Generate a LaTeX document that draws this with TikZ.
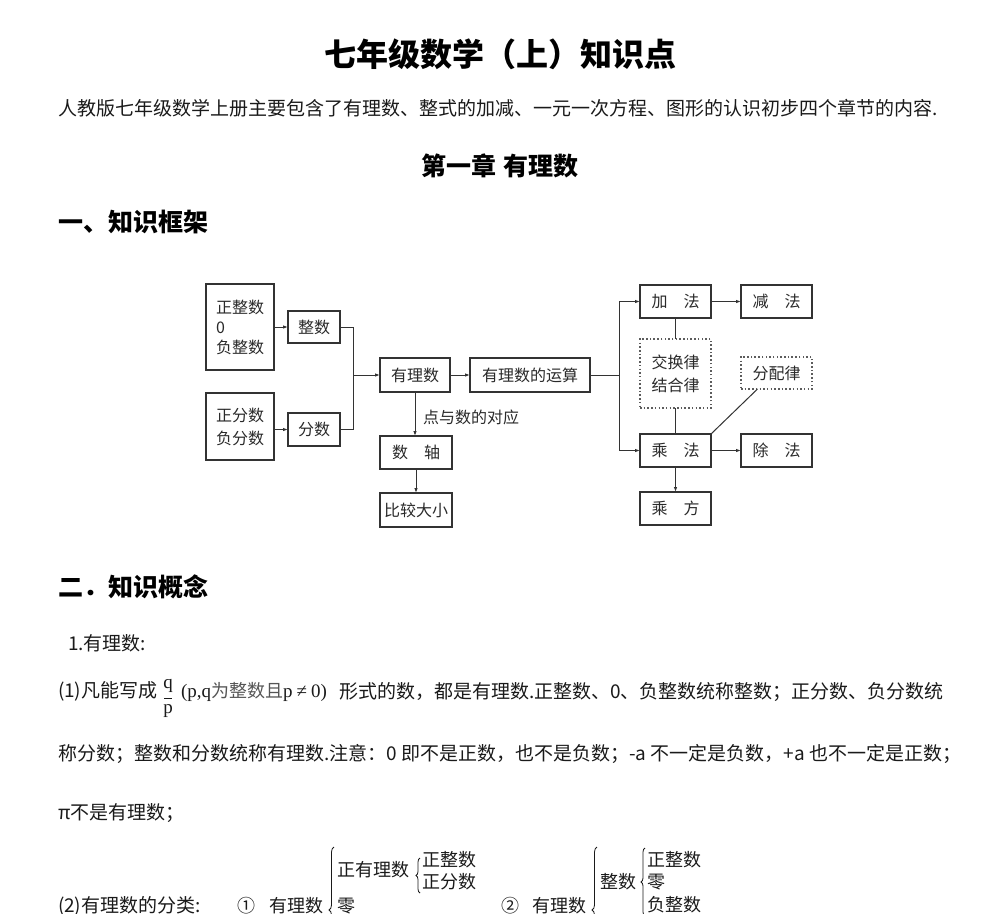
\documentclass[tikz,border=0pt]{standalone}
\usepackage{fontspec}
\setmainfont{Noto Sans CJK SC}
\newfontfamily\lserif{Liberation Serif}
\usetikzlibrary{arrows.meta,decorations.pathreplacing,calc}
\definecolor{txt}{HTML}{1A1A1A}
\definecolor{dline}{HTML}{333333}
\definecolor{dtext}{HTML}{2A2A2A}
\definecolor{fgray}{HTML}{555555}
\begin{document}
\begin{tikzpicture}[x=1pt,y=-1pt,
  every node/.style={inner sep=0pt, outer sep=0pt, text=txt},
  title/.style={font=\fontsize{32}{36}\selectfont\bfseries, text=black},
  head/.style={font=\fontsize{25}{30}\selectfont\bfseries, text=black},
  body/.style={font=\fontsize{19}{23}\selectfont, anchor=west},
  cls/.style={font=\fontsize{18}{22}\selectfont, anchor=west},
  dbox/.style={draw=dline, line width=1.3pt, font=\fontsize{16}{19}\selectfont, text=dtext, align=center},
  dotbox/.style={draw=dline!80, line width=1.5pt, dash pattern=on 1.5pt off 2.2pt, font=\fontsize{16}{19}\selectfont, text=dtext, align=center},
  cline/.style={draw=dline, line width=1pt},
  carr/.style={cline, -{Latex[length=5pt,width=3.5pt]}},
  brc/.style={draw=txt, line width=0.8pt, decorate, decoration={brace, amplitude=#1}},
  brc/.default=5pt
]
\useasboundingbox[fill=white] (0,0) rectangle (998,913);

% ---- headings ----
\node[title] (t) at (500,54) {七年级数学（上）知识点};
\node[body] (intro) at (58,108) {人教版七年级数学上册主要包含了有理数、整式的加减、一元一次方程、图形的认识初步四个章节的内容.};
\node[head] (ch1) at (500,166) {第一章\hspace{0.3em}有理数};
\node[head, anchor=west] (s1) at (58,222) {一、知识框架};

% ---- diagram ----
\node[dbox, minimum width=68pt, minimum height=86pt, align=left] (A) at (240,327) {正整数\\[1pt]0\\[1pt]负整数};
\node[dbox, minimum width=52pt, minimum height=32pt] (zs) at (314,327) {整数};
\node[dbox, minimum width=68pt, minimum height=67pt, align=left] (B) at (240,426.5) {正分数\\[4pt]负分数};
\node[dbox, minimum width=52pt, minimum height=33pt] (fs) at (314,429.5) {分数};
\node[dbox, minimum width=70pt, minimum height=34pt] (yl) at (415,375) {有理数};
\node[dbox, minimum width=120pt, minimum height=34pt] (ys) at (530,375) {有理数的运算};
\node[dbox, minimum width=72pt, minimum height=33pt] (sz) at (416,452.5) {数\quad 轴};
\node[dbox, minimum width=72pt, minimum height=34pt] (bj) at (416,510) {比较大小};
\node[font=\fontsize{16}{19}\selectfont, text=dtext, anchor=west] (dy) at (423,417) {点与数的对应};

\node[dbox, minimum width=71pt, minimum height=33pt] (jia) at (675.5,301.5) {加\quad 法};
\node[dbox, minimum width=71pt, minimum height=33pt] (jian) at (776.5,301.5) {减\quad 法};
\node[dotbox, minimum width=71pt, minimum height=69pt] (jh) at (675.5,373.5) {交换律\\[4pt]结合律};
\node[dotbox, minimum width=71pt, minimum height=32pt] (fp) at (776.5,373) {分配律};
\node[dbox, minimum width=71pt, minimum height=33pt] (cf) at (675.5,450.5) {乘\quad 法};
\node[dbox, minimum width=71pt, minimum height=33pt] (cu) at (776.5,450.5) {除\quad 法};
\node[dbox, minimum width=71pt, minimum height=33pt] (cfang) at (675.5,508.5) {乘\quad 方};

\coordinate (j1) at (353,375);
\coordinate (j2) at (619,375);
\draw[carr] (A.east |- zs.west) -- (zs.west);
\draw[carr] (B.east |- fs.west) -- (fs.west);
\draw[cline] (zs.east) -| (j1);
\draw[cline] (fs.east) -| (j1);
\draw[carr] (j1) -- (yl.west);
\draw[carr] (yl.east) -- (ys.west);
\draw[carr] (yl.south) -- (yl.south |- sz.north);
\draw[carr] (sz.south) -- (bj.north);
\draw[cline] (ys.east) -- (j2);
\draw[carr] (j2) |- (jia.west);
\draw[carr] (j2) |- (cf.west);
\draw[carr] (jia.east) -- (jian.west);
\draw[carr] (cf.east) -- (cu.west);
\draw[cline] (jia.south) -- (jh.north);
\draw[cline] (jh.south) -- (cf.north);
\draw[cline] (cf.north east) -- ([xshift=-19pt]fp.south);
\draw[carr] (cf.south) -- (cfang.north);

% ---- concepts ----
\node[head, anchor=west] (s2) at (58,587) {二．知识概念};
\node[body] (p1) at (68,643) {1.有理数:};
\node[body] (l1a) at (58,691) {(1)凡能写成};
\node[font=\lserif\fontsize{19}{22}\selectfont] (fq) at (168,686) {q};
\node[font=\lserif\fontsize{19}{22}\selectfont] (fpp) at (168,711) {p};
\draw[draw=txt, line width=0.5pt] ([xshift=-4pt,yshift=-6pt]fq.south) -- ([xshift=4pt,yshift=-6pt]fq.south);
\node[anchor=west, font=\fontsize{18}{20}\selectfont] (frm) at (181,692) {{\lserif\fontsize{19}{20}\selectfont (p,q}\textcolor{fgray}{为整数且}{\lserif\fontsize{19}{20}\selectfont p\hspace{4pt}≠\hspace{4pt}0)}};
\node[body] (l1b) at (339,692) {形式的数，都是有理数.正整数、0、负整数统称整数；正分数、负分数统};
\node[body] (l2) at (58,754) {称分数；整数和分数统称有理数.注意：0 即不是正数，也不是负数；-a 不一定是负数，+a 也不一定是正数；};
\node[body] (l3) at (58,813) {π不是有理数；};
\node[body] (l4) at (58,906) {(2)有理数的分类:};

% classification 1
\node[cls] (n1) at (237,906) {①};
\node[cls] (r1) at (269,906) {有理数};
\draw[brc=5pt] (334,973) -- (334,847);
\node[cls] (zyl) at (337,870) {正有理数};
\draw[brc=4pt] (420,893) -- (420,858);
\node[cls] (zzs1) at (422,860) {正整数};
\node[cls] (zfs1) at (422,882) {正分数};
\node[cls] (ling1) at (337,906) {零};

% classification 2
\node[cls] (n2) at (501,906) {②};
\node[cls] (r2) at (532,906) {有理数};
\draw[brc=5pt] (597,973) -- (597,847);
\node[cls] (zs2) at (600,882) {整数};
\draw[brc=4pt] (645,916) -- (645,848);
\node[cls] (zzs2) at (647,860) {正整数};
\node[cls] (ling2) at (647,882) {零};
\node[cls] (fzs2) at (647,905) {负整数};
\end{tikzpicture}
\end{document}
